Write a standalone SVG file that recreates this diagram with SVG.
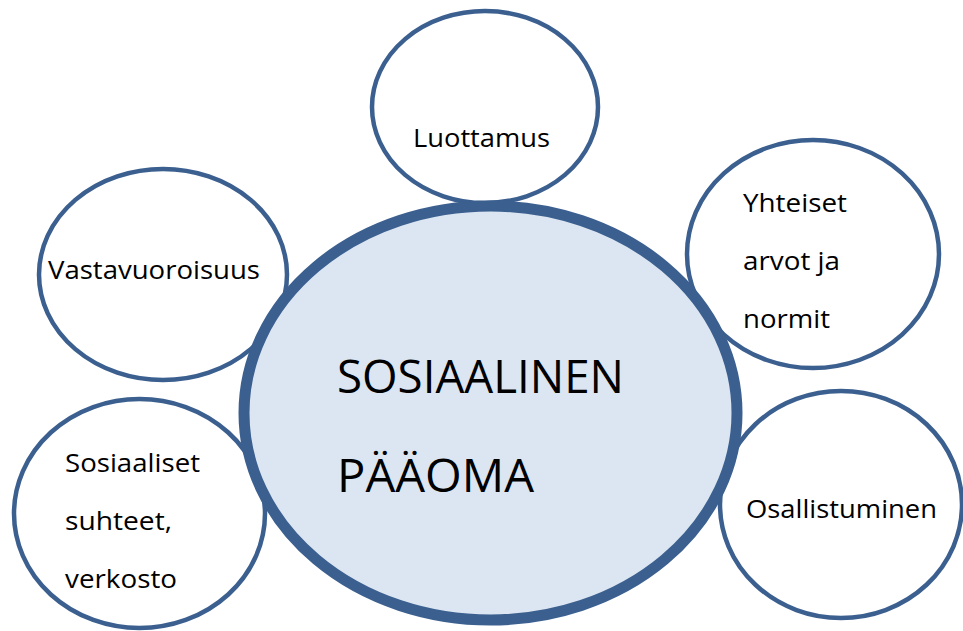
<svg xmlns="http://www.w3.org/2000/svg" width="963" height="631" viewBox="0 0 963 631">
<style>
.sat{fill:#ffffff;stroke:#3b5f8f;stroke-width:4.5}
.core{fill:#dce6f2;stroke:#3b5f8f;stroke-width:11}
.t{font-family:"Open Sans",Lato,"Liberation Sans",sans-serif;font-size:26px;fill:#000}
.big{font-family:"Open Sans",Lato,"Liberation Sans",sans-serif;font-size:46px;fill:#000}
</style>
<rect width="963" height="631" fill="#ffffff"/>
<g id="luottamus">
<ellipse class="sat" cx="485" cy="107" rx="113" ry="96"/>
<text class="t" x="413" y="147" textLength="137" lengthAdjust="spacingAndGlyphs">Luottamus</text>
</g>
<g id="vastavuoroisuus">
<ellipse class="sat" cx="163" cy="274.5" rx="124" ry="105.5"/>
<text class="t" x="48" y="279" textLength="212" lengthAdjust="spacingAndGlyphs">Vastavuoroisuus</text>
</g>
<g id="sosiaaliset">
<ellipse class="sat" cx="139.5" cy="513.5" rx="125.5" ry="114.5"/>
<text class="t" x="65" y="472" textLength="135" lengthAdjust="spacingAndGlyphs">Sosiaaliset</text>
<text class="t" x="65" y="530" textLength="107" lengthAdjust="spacingAndGlyphs">suhteet,</text>
<text class="t" x="65" y="588" textLength="112" lengthAdjust="spacingAndGlyphs">verkosto</text>
</g>
<g id="yhteiset">
<ellipse class="sat" cx="813" cy="254" rx="126" ry="114"/>
<text class="t" x="743" y="212" textLength="104" lengthAdjust="spacingAndGlyphs">Yhteiset</text>
<text class="t" x="743" y="270" textLength="97" lengthAdjust="spacingAndGlyphs">arvot ja</text>
<text class="t" x="743" y="328" textLength="87" lengthAdjust="spacingAndGlyphs">normit</text>
</g>
<g id="osallistuminen">
<ellipse class="sat" cx="841" cy="504.5" rx="121" ry="113.5"/>
<text class="t" x="746" y="518" textLength="191" lengthAdjust="spacingAndGlyphs">Osallistuminen</text>
</g>
<g id="sosiaalinen-paaoma">
<ellipse class="core" cx="490.5" cy="413" rx="246.5" ry="207"/>
<text class="big" x="337" y="393" textLength="287" lengthAdjust="spacingAndGlyphs">SOSIAALINEN</text>
<text class="big" x="337" y="492" textLength="197" lengthAdjust="spacingAndGlyphs">PÄÄOMA</text>
</g>
<g id="connectors"/>
</svg>
